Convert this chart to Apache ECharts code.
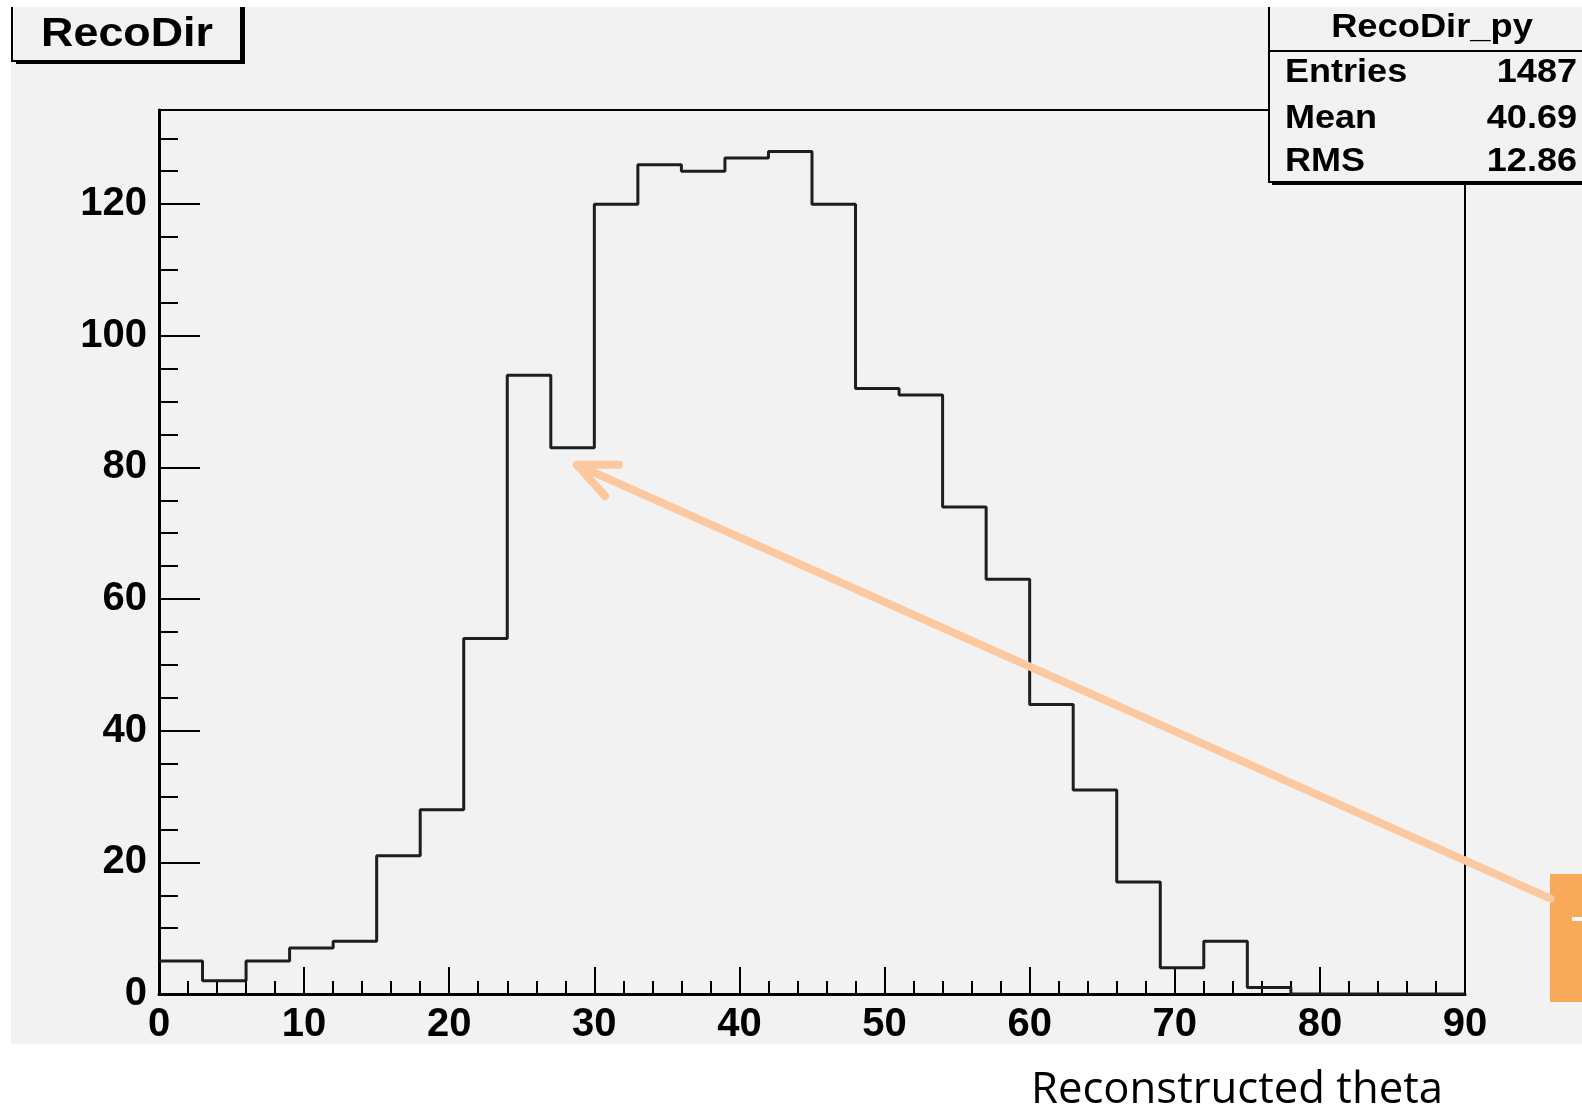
<!DOCTYPE html>
<html>
<head>
<meta charset="utf-8">
<script src="https://cdn.jsdelivr.net/npm/echarts@6/dist/echarts.min.js"></script>
<style>
  html, body { margin: 0; padding: 0; background: #fff; }
  #main { width: 1582px; height: 1109px; }
</style>
</head>
<body>
<div id="main"></div>
<script>
// histogram RecoDir_py : 30 bins of 3 deg from 0 to 90
var binLow = [0, 3, 6, 9, 12, 15, 18, 21, 24, 27, 30, 33, 36, 39, 42,
              45, 48, 51, 54, 57, 60, 63, 66, 69, 72, 75, 78, 81, 84, 87];
var counts = [5, 2, 5, 7, 8, 21, 28, 54, 94, 83, 120, 126, 125, 127, 128,
              120, 92, 91, 74, 63, 44, 31, 17, 4, 8, 1, 0, 0, 0, 0];
var xMax = 90;
var yMax = 134.3;

var statNames = ['Entries', 'Mean', 'RMS'];
var statValues = ['1487', '40.69', '12.86'];

// arrow annotation, in data units (tip, tail)
var arrowTip = [28.8, 80.4];
var arrowTail = [95.9, 14.5];

var histData = [];
for (var i = 0; i < binLow.length; i++) {
  histData.push([binLow[i], counts[i]]);
}
histData.push([xMax, counts[counts.length - 1]]);

var bold = { fontFamily: 'Liberation Sans', fontWeight: 'bold', fontSize: 40, color: '#000' };

var myChart = echarts.init(document.getElementById('main'));

var option = {
  backgroundColor: '#fff',
  animation: false,
  grid: {
    left: 159, right: 117, top: 110, bottom: 115,
    show: true, borderColor: '#000', borderWidth: 2
  },
  xAxis: {
    type: 'value',
    min: 0, max: xMax, interval: 10,
    axisLine: { lineStyle: { color: '#000', width: 3 } },
    axisTick: { inside: true, length: 27, lineStyle: { color: '#000', width: 2 } },
    minorTick: { show: true, splitNumber: 5, length: 13, lineStyle: { color: '#000', width: 2 } },
    axisLabel: Object.assign({ margin: 11 }, bold),
    splitLine: { show: false }
  },
  yAxis: [{
    type: 'value',
    min: 0, max: yMax, interval: 20,
    axisLine: { show: true, lineStyle: { color: '#000', width: 3 } },
    axisTick: { show: true, inside: true, length: 41, lineStyle: { color: '#000', width: 2 } },
    axisLabel: Object.assign({ margin: 12, showMaxLabel: false }, bold),
    splitLine: { show: false }
  }, {
    type: 'value',
    position: 'left',
    min: 0, max: yMax, interval: 5,
    axisLine: { show: false },
    axisTick: { show: true, inside: true, length: 19, lineStyle: { color: '#000', width: 2 } },
    axisLabel: { show: false },
    splitLine: { show: false }
  }],
  series: [{
    name: 'RecoDir_py',
    type: 'line',
    step: 'end',
    symbol: 'none',
    data: histData,
    lineStyle: { color: '#1e1e1e', width: 3 },
    z: 5
  }]
};

myChart.setOption(option, true);

var tip = myChart.convertToPixel({ gridIndex: 0 }, arrowTip);
var tail = myChart.convertToPixel({ gridIndex: 0 }, arrowTail);
var ang = Math.atan2(tail[1] - tip[1], tail[0] - tip[0]);
var headLen = 42, headSpread = 0.42;
var arm1 = [tip[0] + headLen * Math.cos(ang - headSpread), tip[1] + headLen * Math.sin(ang - headSpread)];
var arm2 = [tip[0] + headLen * Math.cos(ang + headSpread), tip[1] + headLen * Math.sin(ang + headSpread)];

var statFont = 'bold 34px "Liberation Sans"';
var statTexts = [];
for (var k = 0; k < statNames.length; k++) {
  var rowY = [73, 119, 162][k];
  statTexts.push({
    type: 'text', x: 1285, y: rowY, scaleX: 1.06, z: 110,
    style: { text: statNames[k], font: statFont, fill: '#000', align: 'left', verticalAlign: 'middle' }
  });
  statTexts.push({
    type: 'text', x: 1577, y: rowY, scaleX: 1.06, z: 110,
    style: { text: statValues[k], font: statFont, fill: '#000', align: 'right', verticalAlign: 'middle' }
  });
}

var graphics = [
  // pad background
  { type: 'rect', z: -10, silent: true, shape: { x: 11, y: 7, width: 1580, height: 1037 }, style: { fill: '#f2f2f2' } },
  // orange box at right
  { type: 'rect', z: 100, shape: { x: 1550, y: 874, width: 40, height: 128 }, style: { fill: '#f9a95a' } },
  { type: 'rect', z: 101, shape: { x: 1572, y: 917, width: 12, height: 4 }, style: { fill: '#fff' } },
  // arrow
  { type: 'line', z: 100, shape: { x1: tail[0], y1: tail[1], x2: tip[0], y2: tip[1] },
    style: { stroke: '#fcc8a0', lineWidth: 8, lineCap: 'round' } },
  { type: 'polyline', z: 100, shape: { points: [arm1, tip, arm2] },
    style: { stroke: '#fcc8a0', lineWidth: 8, lineCap: 'round', lineJoin: 'round', fill: null } },
  // title box
  { type: 'rect', z: 100, shape: { x: 16, y: -10, width: 229, height: 74 }, style: { fill: '#000' } },
  { type: 'rect', z: 101, shape: { x: 12, y: -10, width: 229, height: 71 }, style: { fill: '#f2f2f2', stroke: '#000', lineWidth: 2 } },
  { type: 'text', z: 102, x: 127, y: 35, scaleX: 1.12,
    style: { text: 'RecoDir', font: 'bold 40px "Liberation Sans"', fill: '#000', align: 'center', verticalAlign: 'middle' } },
  // stats box
  { type: 'rect', z: 100, shape: { x: 1272, y: -10, width: 340, height: 195 }, style: { fill: '#000' } },
  { type: 'rect', z: 101, shape: { x: 1269, y: -10, width: 340, height: 192 }, style: { fill: '#f2f2f2', stroke: '#000', lineWidth: 2 } },
  { type: 'line', z: 102, shape: { x1: 1269, y1: 51, x2: 1582, y2: 51 }, style: { stroke: '#000', lineWidth: 2 } },
  { type: 'text', z: 110, x: 1432, y: 28, scaleX: 1.1,
    style: { text: 'RecoDir_py', font: 'bold 33px "Liberation Sans"', fill: '#000', align: 'center', verticalAlign: 'middle' } },
  // x title
  { type: 'text', z: 100, x: 1031, y: 1091, scaleX: 1.015,
    style: { text: 'Reconstructed theta', font: '43px "Open Sans"', fill: '#000', align: 'left', verticalAlign: 'middle' } },
  // white margins of the picture
  { type: 'rect', z: 200, shape: { x: 0, y: 0, width: 1582, height: 7 }, style: { fill: '#fff' } },
  { type: 'rect', z: 200, shape: { x: 0, y: 0, width: 11, height: 1109 }, style: { fill: '#fff' } }
].concat(statTexts);

myChart.setOption({ graphic: graphics });
</script>
</body>
</html>
